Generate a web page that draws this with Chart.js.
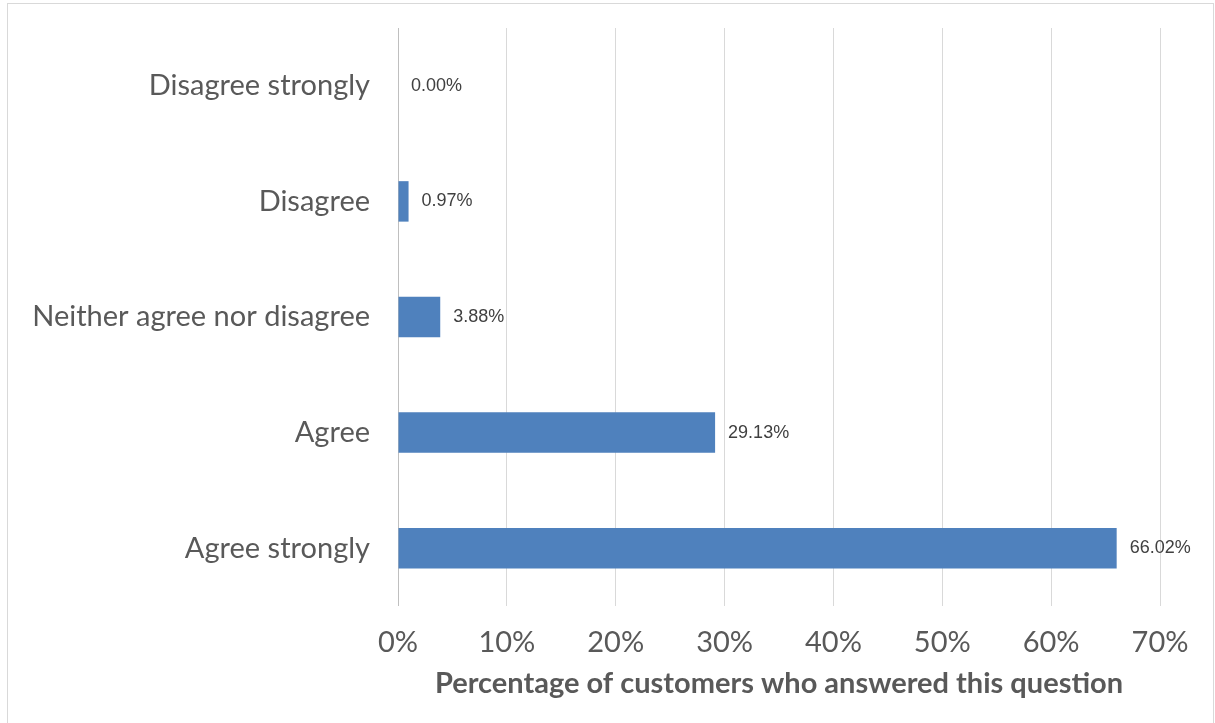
<!doctype html>
<html lang="en">
<head>
    <meta charset="utf-8">
    <title>Customer survey</title>
    <script src="https://cdn.jsdelivr.net/npm/chart.js"></script>
    <style>
        body { margin: 0; background: #fff; }
        #frame {
            position: absolute; left: 7px; top: 3px;
            width: 1207px; height: 740px;
            border: 1px solid #d9d9d9; box-sizing: border-box;
        }
        #box { position: absolute; left: 0; top: 0; width: 1215px; height: 723px; }
    </style>
</head>
<body>
    <div id="frame"></div>
    <div id="box"><canvas id="surveychart"></canvas></div>
<script>
    const answers = ["Disagree strongly", "Disagree", "Neither agree nor disagree", "Agree", "Agree strongly"];
    const percentages = [0.00, 0.97, 3.88, 29.13, 66.02];
    const tickValues = [0, 10, 20, 30, 40, 50, 60, 70];
    const axisTitle = "Percentage of customers who answered this question";

    // write the value next to the end of each bar
    const barLabels = {
        id: 'barLabels',
        afterDatasetsDraw(chart) {
            const ctx = chart.ctx;
            const meta = chart.getDatasetMeta(0);
            ctx.save();
            ctx.font = '18px "Liberation Sans"';
            ctx.fillStyle = '#404040';
            ctx.textAlign = 'left';
            ctx.textBaseline = 'middle';
            meta.data.forEach((bar, i) => {
                ctx.fillText(percentages[i].toFixed(2) + '%', bar.x + 13, bar.y);
            });
            ctx.restore();
        }
    };

    new Chart(document.getElementById('surveychart'), {
        type: 'bar',
        data: {
            labels: answers,
            datasets: [{
                data: percentages,
                backgroundColor: '#4f81bd',
                borderWidth: 0,
                barPercentage: 0.35,
                categoryPercentage: 1
            }]
        },
        options: {
            indexAxis: 'y',
            responsive: true,
            maintainAspectRatio: false,
            animation: false,
            layout: { padding: { top: 28, right: 55, bottom: 0, left: 0 } },
            plugins: { legend: { display: false }, tooltip: { enabled: false } },
            scales: {
                x: {
                    min: 0,
                    max: 70,
                    afterBuildTicks: (scale) => { scale.ticks = tickValues.map(v => ({ value: v })); },
                    afterFit: (scale) => { scale.height = 117; },
                    border: { display: false },
                    grid: {
                        drawTicks: false,
                        color: (c) => c.tick && c.tick.value === 0 ? '#bfbfbf' : '#d9d9d9',
                        lineWidth: 1
                    },
                    ticks: {
                        padding: 19,
                        color: '#595959',
                        font: { family: 'Lato', size: 29 },
                        callback: (v) => v + '%'
                    },
                    title: {
                        display: true,
                        text: axisTitle,
                        color: '#595959',
                        font: { family: 'Lato', size: 29, weight: 'bold' },
                        padding: { top: 0, bottom: 22 }
                    }
                },
                y: {
                    afterFit: (scale) => {
                        scale.width = 398;
                        scale.paddingTop = 0;
                        scale.paddingBottom = 0;
                    },
                    border: { display: false },
                    grid: { display: false, drawTicks: false },
                    ticks: {
                        padding: 28,
                        color: '#595959',
                        font: { family: 'Lato', size: 29 }
                    }
                }
            }
        },
        plugins: [barLabels]
    });
</script>
</body>
</html>
